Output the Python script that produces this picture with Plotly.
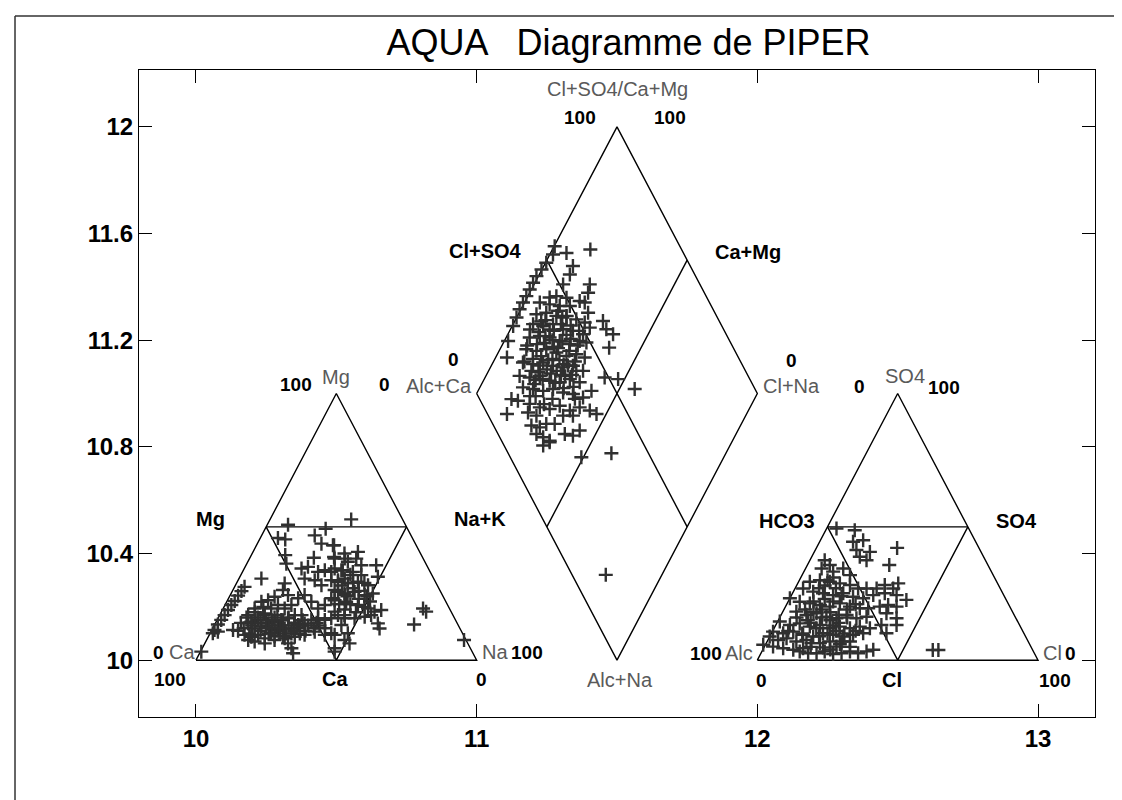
import plotly.graph_objects as go

# ---------------- data ----------------
TITLE = "AQUA   Diagramme de PIPER"
X_TICKS = [10, 11, 12, 13]
X_TICK_TEXT = ["10", "11", "12", "13"]
Y_TICKS = [10, 10.4, 10.8, 11.2, 11.6, 12]
Y_TICK_TEXT = ["10", "10.4", "10.8", "11.2", "11.6", "12"]

# Piper frame definition (data units)
CATION_X0 = 10.0     # left triangle origin
DIAMOND_X0 = 11.0    # diamond left vertex x
ANION_X0 = 12.0      # right triangle origin
BASE_Y = 10.0
SIDE = 1.0

# samples in the cation triangle (x, y)
CATION_POINTS = [
    (10.328, 10.508), (10.462, 10.493), (10.553, 10.528),
    (10.292, 10.458), (10.318, 10.453),
    (10.423, 10.468), (10.447, 10.437), (10.492, 10.431),
    (10.318, 10.394), (10.420, 10.384), (10.492, 10.387), (10.530, 10.381),
    (10.322, 10.362), (10.376, 10.344), (10.399, 10.350), (10.435, 10.331),
    (10.459, 10.337), (10.482, 10.331), (10.518, 10.337),
    (10.233, 10.306),
    (10.316, 10.288), (10.387, 10.306), (10.423, 10.300), (10.447, 10.281),
    (10.482, 10.300), (10.506, 10.294), (10.530, 10.306),
    (10.173, 10.275), (10.162, 10.259), (10.150, 10.242), (10.138, 10.222),
    (10.126, 10.207), (10.114, 10.188), (10.102, 10.169), (10.090, 10.151),
    (10.078, 10.134), (10.066, 10.113), (10.060, 10.101),
    (10.310, 10.263), (10.328, 10.244), (10.280, 10.238), (10.257, 10.225),
    (10.233, 10.219), (10.209, 10.194), (10.186, 10.169), (10.197, 10.144),
    (10.221, 10.151), (10.245, 10.175), (10.268, 10.194), (10.292, 10.207),
    (10.316, 10.194), (10.340, 10.207), (10.364, 10.232), (10.387, 10.244),
    (10.411, 10.219), (10.435, 10.194), (10.459, 10.207), (10.482, 10.232),
    (10.506, 10.256), (10.530, 10.244),
    (10.186, 10.138), (10.209, 10.119), (10.233, 10.126), (10.257, 10.138),
    (10.280, 10.144), (10.304, 10.151), (10.328, 10.157), (10.352, 10.169),
    (10.376, 10.169), (10.173, 10.095), (10.197, 10.088), (10.221, 10.095),
    (10.245, 10.082), (10.268, 10.101), (10.292, 10.113), (10.316, 10.119),
    (10.340, 10.119), (10.364, 10.132), (10.387, 10.138), (10.411, 10.151),
    (10.435, 10.157), (10.459, 10.151), (10.482, 10.157), (10.506, 10.169),
    (10.530, 10.157),
    (10.132, 10.113), (10.078, 10.107),
    (10.186, 10.076), (10.209, 10.070), (10.245, 10.063), (10.280, 10.076),
    (10.316, 10.082), (10.352, 10.088), (10.387, 10.095), (10.423, 10.107),
    (10.459, 10.095), (10.482, 10.101),
    (10.328, 10.063), (10.340, 10.045), (10.346, 10.026),
    (10.019, 10.032), (10.494, 10.032),
    (10.488, 10.431), (10.529, 10.400), (10.577, 10.406), (10.494, 10.381),
    (10.541, 10.369), (10.571, 10.381), (10.589, 10.356), (10.642, 10.356),
    (10.494, 10.344), (10.523, 10.337), (10.559, 10.331), (10.589, 10.319),
    (10.648, 10.313), (10.506, 10.300), (10.541, 10.288), (10.577, 10.294),
    (10.613, 10.281), (10.494, 10.263), (10.529, 10.250), (10.565, 10.256),
    (10.601, 10.244), (10.630, 10.250), (10.494, 10.225), (10.535, 10.219),
    (10.577, 10.207), (10.613, 10.194), (10.636, 10.182), (10.660, 10.188),
    (10.494, 10.182), (10.529, 10.169), (10.565, 10.157), (10.601, 10.163),
    (10.624, 10.169), (10.648, 10.138), (10.654, 10.119), (10.518, 10.132),
    (10.494, 10.095), (10.541, 10.101), (10.529, 10.076), (10.547, 10.063),
    (10.494, 10.045),
    (10.809, 10.194), (10.820, 10.182), (10.777, 10.134), (10.955, 10.076),
    (10.250, 10.150), (10.270, 10.120), (10.300, 10.130), (10.220, 10.160),
    (10.200, 10.130), (10.350, 10.140), (10.370, 10.100), (10.290, 10.170),
    (10.260, 10.100), (10.320, 10.100),
    (10.170, 10.120), (10.190, 10.100), (10.210, 10.140), (10.230, 10.110),
    (10.240, 10.170), (10.260, 10.130), (10.280, 10.160), (10.280, 10.090),
    (10.300, 10.110), (10.310, 10.150), (10.330, 10.130), (10.340, 10.100),
    (10.360, 10.120), (10.380, 10.150), (10.400, 10.130), (10.420, 10.120),
    (10.440, 10.130), (10.210, 10.180), (10.240, 10.200), (10.150, 10.110),
    (10.560, 10.270), (10.580, 10.230), (10.600, 10.290), (10.550, 10.320),
    (10.620, 10.220), (10.510, 10.210), (10.570, 10.180), (10.520, 10.280),
    (10.600, 10.200), (10.540, 10.240),
    (10.160, 10.140), (10.180, 10.160), (10.200, 10.090), (10.230, 10.140),
    (10.250, 10.120), (10.270, 10.150), (10.290, 10.120), (10.310, 10.090),
    (10.330, 10.160), (10.350, 10.110), (10.370, 10.130), (10.390, 10.110),
    (10.430, 10.140), (10.460, 10.120), (10.550, 10.210), (10.580, 10.260),
    (10.610, 10.240), (10.560, 10.290), (10.530, 10.190),
]

# samples in the central diamond (x, y)
DIAMOND_POINTS = [
    (11.278, 11.552), (11.272, 11.521), (11.320, 11.527), (11.405, 11.540),
    (11.343, 11.478), (11.332, 11.446),
    (11.248, 11.490), (11.231, 11.465), (11.213, 11.440), (11.201, 11.415),
    (11.189, 11.390), (11.177, 11.365), (11.165, 11.341), (11.153, 11.316),
    (11.142, 11.285), (11.130, 11.253), (11.112, 11.197), (11.108, 11.135),
    (11.308, 11.409), (11.403, 11.409), (11.397, 11.378), (11.284, 11.365),
    (11.320, 11.359), (11.367, 11.347), (11.385, 11.341), (11.397, 11.303),
    (11.225, 11.341), (11.260, 11.334), (11.296, 11.328), (11.332, 11.328),
    (11.213, 11.297), (11.248, 11.303), (11.284, 11.291), (11.320, 11.291),
    (11.355, 11.278), (11.385, 11.266), (11.403, 11.247),
    (11.201, 11.260), (11.237, 11.253), (11.272, 11.260), (11.308, 11.241),
    (11.343, 11.235), (11.379, 11.222),
    (11.450, 11.272), (11.462, 11.241), (11.486, 11.222), (11.472, 11.172),
    (11.189, 11.210), (11.225, 11.216), (11.260, 11.210), (11.296, 11.197),
    (11.332, 11.185), (11.367, 11.197), (11.391, 11.191),
    (11.177, 11.166), (11.213, 11.160), (11.248, 11.166), (11.284, 11.154),
    (11.320, 11.141), (11.355, 11.147), (11.385, 11.135),
    (11.165, 11.116), (11.201, 11.110), (11.237, 11.116), (11.272, 11.104),
    (11.308, 11.098), (11.343, 11.104), (11.379, 11.085),
    (11.153, 11.066), (11.189, 11.060), (11.225, 11.066), (11.260, 11.048),
    (11.296, 11.042), (11.332, 11.054), (11.367, 11.042),
    (11.456, 11.060), (11.504, 11.054), (11.563, 11.017),
    (11.165, 11.023), (11.201, 11.017), (11.237, 11.010), (11.272, 11.017),
    (11.308, 11.004), (11.343, 10.998), (11.379, 10.985), (11.409, 11.010),
    (11.124, 10.979), (11.147, 10.973), (11.189, 10.961), (11.225, 10.948),
    (11.260, 10.942), (11.296, 10.954), (11.332, 10.936), (11.367, 10.948),
    (11.403, 10.936), (11.427, 10.923),
    (11.108, 10.923), (11.183, 10.929), (11.213, 10.917), (11.308, 10.917),
    (11.343, 10.917),
    (11.195, 10.880), (11.225, 10.873), (11.248, 10.886), (11.278, 10.886),
    (11.213, 10.848), (11.237, 10.836), (11.260, 10.823), (11.314, 10.848),
    (11.343, 10.842), (11.367, 10.861),
    (11.237, 10.805), (11.260, 10.817),
    (11.373, 10.761), (11.480, 10.776),
    (11.460, 10.320),
    (11.240, 11.190), (11.270, 11.130), (11.300, 11.070), (11.220, 11.080),
    (11.320, 11.220), (11.260, 11.240), (11.290, 11.170), (11.230, 11.140),
    (11.350, 11.120), (11.310, 11.020),
    (11.200, 11.130), (11.230, 11.270), (11.270, 11.200), (11.300, 11.260),
    (11.330, 11.160), (11.210, 11.050), (11.250, 11.090), (11.280, 11.040),
    (11.340, 11.070), (11.360, 11.180), (11.180, 11.180), (11.220, 11.230),
    (11.290, 11.310), (11.260, 11.360), (11.310, 11.110), (11.270, 10.980),
    (11.240, 10.960), (11.350, 10.980), (11.190, 10.990), (11.320, 11.290),
    (11.215, 11.185), (11.245, 11.215), (11.275, 11.175), (11.305, 11.195),
    (11.335, 11.205), (11.195, 11.085), (11.225, 11.105), (11.255, 11.125),
    (11.285, 11.085), (11.315, 11.065), (11.345, 11.025), (11.205, 11.035),
    (11.235, 11.055), (11.265, 11.075), (11.295, 11.125), (11.325, 11.105),
    (11.355, 11.085), (11.245, 11.275), (11.275, 11.235), (11.305, 11.285),
    (11.335, 11.255), (11.365, 11.235), (11.190, 11.240), (11.170, 11.120),
    (11.210, 10.990),
]

# samples in the anion triangle (x, y)
ANION_POINTS = [
    (12.282, 10.494), (12.347, 10.487),
    (12.341, 10.444), (12.377, 10.450), (12.498, 10.421),
    (12.353, 10.413), (12.365, 10.388), (12.389, 10.375), (12.401, 10.406),
    (12.470, 10.357),
    (12.240, 10.375), (12.258, 10.357), (12.229, 10.344), (12.270, 10.332),
    (12.306, 10.344), (12.330, 10.319),
    (12.187, 10.294), (12.223, 10.300), (12.258, 10.294), (12.294, 10.288),
    (12.330, 10.282), (12.359, 10.269), (12.389, 10.269), (12.425, 10.269),
    (12.454, 10.282), (12.484, 10.269), (12.502, 10.288),
    (12.163, 10.269), (12.199, 10.257), (12.234, 10.251), (12.270, 10.244),
    (12.306, 10.251), (12.341, 10.238), (12.377, 10.232), (12.413, 10.244),
    (12.454, 10.251), (12.496, 10.244), (12.531, 10.226),
    (12.116, 10.232), (12.151, 10.219), (12.187, 10.213), (12.223, 10.207),
    (12.258, 10.201), (12.294, 10.213), (12.330, 10.201), (12.365, 10.195),
    (12.395, 10.195), (12.436, 10.201), (12.466, 10.207), (12.496, 10.201),
    (12.139, 10.182), (12.175, 10.170), (12.211, 10.176), (12.246, 10.163),
    (12.282, 10.157), (12.318, 10.170), (12.353, 10.157), (12.389, 10.163),
    (12.460, 10.176), (12.496, 10.157),
    (12.080, 10.145), (12.116, 10.132), (12.151, 10.138), (12.187, 10.126),
    (12.223, 10.132), (12.258, 10.120), (12.294, 10.126), (12.330, 10.120),
    (12.365, 10.126), (12.401, 10.120), (12.442, 10.132), (12.496, 10.132),
    (12.056, 10.107), (12.092, 10.101), (12.128, 10.107), (12.163, 10.095),
    (12.199, 10.089), (12.234, 10.101), (12.270, 10.095), (12.306, 10.089),
    (12.341, 10.095), (12.377, 10.101), (12.460, 10.101),
    (12.044, 10.089), (12.074, 10.076), (12.104, 10.082), (12.139, 10.070),
    (12.175, 10.076), (12.223, 10.064), (12.258, 10.070), (12.294, 10.060),
    (12.330, 10.070),
    (12.021, 10.058), (12.056, 10.051), (12.092, 10.045), (12.163, 10.045),
    (12.234, 10.048), (12.282, 10.051),
    (12.151, 10.033), (12.181, 10.026), (12.211, 10.026), (12.240, 10.033),
    (12.270, 10.023), (12.300, 10.026), (12.330, 10.033), (12.359, 10.026),
    (12.389, 10.033), (12.413, 10.039),
    (12.193, 10.064), (12.128, 10.039),
    (12.625, 10.038), (12.645, 10.038),
    (12.200, 10.180), (12.230, 10.160), (12.260, 10.180), (12.290, 10.140),
    (12.320, 10.160), (12.210, 10.120), (12.250, 10.100), (12.280, 10.110),
    (12.310, 10.100), (12.180, 10.150), (12.240, 10.230), (12.270, 10.220),
    (12.300, 10.240), (12.220, 10.270), (12.250, 10.300), (12.280, 10.270),
    (12.160, 10.100), (12.190, 10.050), (12.260, 10.040), (12.330, 10.050),
    (12.170, 10.190), (12.200, 10.220), (12.230, 10.190), (12.260, 10.150),
    (12.290, 10.170), (12.320, 10.190), (12.350, 10.210), (12.190, 10.140),
    (12.220, 10.090), (12.270, 10.130), (12.300, 10.070), (12.350, 10.110),
    (12.140, 10.160), (12.110, 10.110), (12.240, 10.280), (12.270, 10.310),
]

# ---------------- frame geometry ----------------
def triangle_segments(x0):
    h = SIDE
    xs = [x0, x0 + SIDE / 2, x0 + SIDE, x0, None,
          x0 + SIDE / 4, x0 + 3 * SIDE / 4, None,
          x0 + SIDE / 4, x0 + SIDE / 2, x0 + 3 * SIDE / 4]
    ys = [BASE_Y, BASE_Y + h, BASE_Y, BASE_Y, None,
          BASE_Y + h / 2, BASE_Y + h / 2, None,
          BASE_Y + h / 2, BASE_Y, BASE_Y + h / 2]
    return xs, ys


def diamond_segments(x0):
    xs = [x0, x0 + SIDE / 2, x0 + SIDE, x0 + SIDE / 2, x0, None,
          x0 + SIDE / 4, x0 + 3 * SIDE / 4, None,
          x0 + SIDE / 4, x0 + 3 * SIDE / 4]
    ys = [BASE_Y + SIDE, BASE_Y + 2 * SIDE, BASE_Y + SIDE, BASE_Y, BASE_Y + SIDE, None,
          BASE_Y + 1.5 * SIDE, BASE_Y + 0.5 * SIDE, None,
          BASE_Y + 0.5 * SIDE, BASE_Y + 1.5 * SIDE]
    return xs, ys


fig = go.Figure()
line_style = dict(color="black", width=1.4)
for xs, ys in (triangle_segments(CATION_X0), diamond_segments(DIAMOND_X0),
               triangle_segments(ANION_X0)):
    fig.add_trace(go.Scatter(x=xs, y=ys, mode="lines", line=line_style,
                             hoverinfo="skip", showlegend=False))

marker_style = dict(symbol="cross-thin", size=10, line=dict(color="#303030", width=2.4))
for pts in (CATION_POINTS, DIAMOND_POINTS, ANION_POINTS):
    fig.add_trace(go.Scatter(x=[p[0] for p in pts], y=[p[1] for p in pts],
                             mode="markers", marker=marker_style, showlegend=False))

# ---------------- labels ----------------
FONT = "Arial, Liberation Sans, sans-serif"
GREY = "#5a5a5a"
number_labels = [
    ("100", 10.356, 11.035), ("0", 10.670, 11.035),
    ("0", 9.868, 10.030), ("100", 9.907, 9.929),
    ("0", 11.016, 9.929), ("100", 11.180, 10.030),
    ("100", 11.369, 12.034), ("100", 11.689, 12.034),
    ("0", 10.919, 11.129), ("0", 12.120, 11.125),
    ("0", 12.365, 11.028), ("100", 12.666, 11.024),
    ("100", 11.817, 10.026), ("0", 12.016, 9.925),
    ("100", 13.060, 9.925), ("0", 13.114, 10.026),
]
bold_labels = [
    ("Mg", 10.053, 10.531), ("Na+K", 11.012, 10.531), ("Ca", 10.495, 9.929),
    ("Cl+SO4", 11.030, 11.533), ("Ca+Mg", 11.967, 11.529),
    ("HCO3", 12.105, 10.523), ("SO4", 12.925, 10.523), ("Cl", 12.479, 9.925),
]
grey_labels = [
    ("Mg", 10.499, 11.062), ("Ca", 9.950, 10.030), ("Na", 11.066, 10.030),
    ("Cl+SO4/Ca+Mg", 11.500, 12.140),
    ("Alc+Ca", 10.866, 11.028), ("Cl+Na", 12.120, 11.028),
    ("Alc+Na", 11.510, 9.925),
    ("SO4", 12.527, 11.065), ("Alc", 11.934, 10.026), ("Cl", 13.053, 10.026),
]
annotations = []
for group, size, color, weight in ((number_labels, 19, "black", "bold"),
                                   (bold_labels, 20, "black", "bold"),
                                   (grey_labels, 20, GREY, "normal")):
    for txt, x, y in group:
        annotations.append(dict(text=txt, x=x, y=y, xref="x", yref="y", showarrow=False,
                                font=dict(family=FONT, size=size, color=color, weight=weight),
                                xanchor="center", yanchor="middle"))

fig.update_layout(
    width=1122, height=800,
    margin=dict(l=131, r=35, t=62, b=91),
    paper_bgcolor="white", plot_bgcolor="white",
    title=dict(text=TITLE, x=0.553, xanchor="center", y=0.957, yanchor="middle",
               font=dict(family=FONT, size=36, color="black")),
    annotations=annotations,
    showlegend=False,
    shapes=[
        dict(type="line", xref="paper", yref="paper", x0=-0.1297, x1=1.05,
             y0=1.0835, y1=1.0835, line=dict(color="#333", width=1.5)),
        dict(type="line", xref="paper", yref="paper", x0=-0.1297, x1=-0.1297,
             y0=1.0835, y1=-0.136, line=dict(color="#333", width=1.5)),
        dict(type="line", xref="paper", yref="paper", x0=-0.1297, x1=1.05,
             y0=-0.136, y1=-0.136, line=dict(color="#333", width=1.5)),
    ],
)
axis_common = dict(showgrid=False, zeroline=False, showline=True, linecolor="black",
                   linewidth=1.2, mirror="ticks", ticks="inside", ticklen=13,
                   tickcolor="black", tickwidth=1.2,
                   tickfont=dict(family=FONT, size=24, color="black", weight="bold"))
fig.update_xaxes(range=[9.797, 13.203], tickmode="array", tickvals=X_TICKS,
                 ticktext=X_TICK_TEXT, **axis_common)
fig.update_yaxes(range=[9.787, 12.213], tickmode="array", tickvals=Y_TICKS,
                 ticktext=Y_TICK_TEXT, **axis_common)

fig.write_html("out.html")
